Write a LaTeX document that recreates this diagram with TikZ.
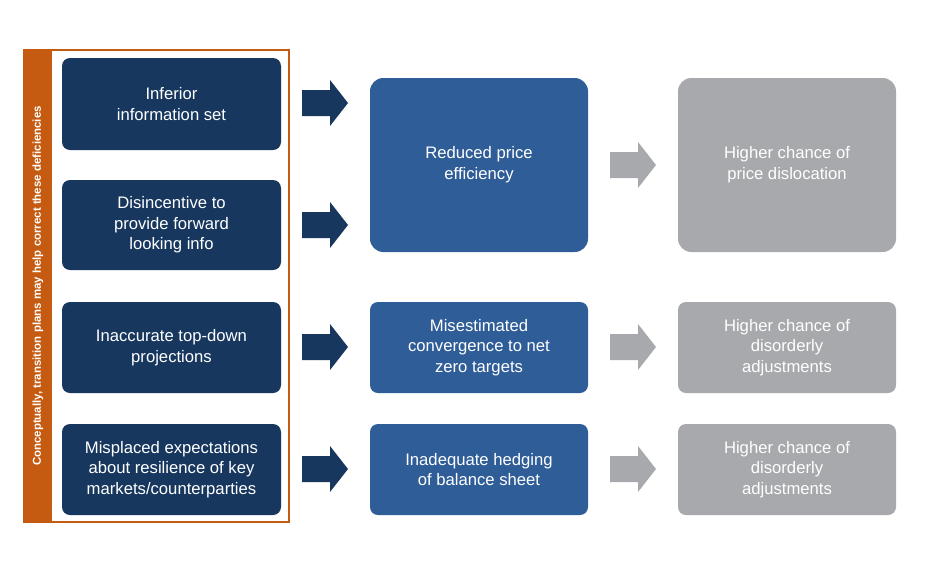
\documentclass[tikz,border=0pt]{standalone}
\usepackage{fontspec}
\setmainfont{Liberation Sans}
\definecolor{navy}{HTML}{17375E}
\definecolor{midblue}{HTML}{2F5D98}
\definecolor{greybox}{HTML}{A7A9AC}
\definecolor{orng}{HTML}{C55A11}
\begin{document}
\begin{tikzpicture}[x=0.75pt,y=-0.75pt,
  box/.style={rounded corners=6pt,text=white,align=center,font=\fontsize{12.5}{15.5}\selectfont},
  darkbox/.style={box,fill=navy},
  bluebox/.style={box,fill=midblue},
  greyb/.style={box,fill=greybox}]
\useasboundingbox (0,0) rectangle (950,586);
\fill[white] (0,0) rectangle (950,586);
% frame
\draw[orng,line width=1.2pt] (24,50) rectangle (289,522);
\fill[orng] (24,50) rectangle (52,522);
\node[rotate=90,text=white,font=\fontsize{8.6}{10}\selectfont\bfseries] (lbl) at (38,286) {Conceptually, transition plans may help correct these deficiencies};
% left boxes
\node[darkbox,minimum width=219\pgflinewidth] (a1) at (171.5,104) {};
\fill[navy,rounded corners=6pt] (62,58) rectangle (281,150);
\node[box] (a1t) at (171.5,104) {Inferior\\information set};
\fill[navy,rounded corners=6pt] (62,180) rectangle (281,270);
\node[box] (a2) at (171.5,225) {Disincentive to\\provide forward\\looking info};
\fill[navy,rounded corners=6pt] (62,302) rectangle (281,393);
\node[box] (a3) at (171.5,347.5) {Inaccurate top-down\\projections};
\fill[navy,rounded corners=6pt] (62,424) rectangle (281,515);
\node[box] (a4) at (171.5,469.5) {Misplaced expectations\\about resilience of key\\markets/counterparties};
% middle
\fill[midblue,rounded corners=10pt] (370,78) rectangle (588,252);
\node[box] (b1) at (479,165) {Reduced price\\efficiency};
\fill[midblue,rounded corners=6pt] (370,302) rectangle (588,393);
\node[box] (b2) at (479,347.5) {Misestimated\\convergence to net\\zero targets};
\fill[midblue,rounded corners=6pt] (370,424) rectangle (588,515);
\node[box] (b3) at (479,469.5) {Inadequate hedging\\of balance sheet};
% right
\fill[greybox,rounded corners=10pt] (678,78) rectangle (896,252);
\node[box] (c1) at (787,165) {Higher chance of\\price dislocation};
\fill[greybox,rounded corners=6pt] (678,302) rectangle (896,393);
\node[box] (c2) at (787,347.5) {Higher chance of\\disorderly\\adjustments};
\fill[greybox,rounded corners=6pt] (678,424) rectangle (896,515);
\node[box] (c3) at (787,469.5) {Higher chance of\\disorderly\\adjustments};
% arrows
\foreach \yy/\cc/\xx in {103/navy/302,225/navy/302,347/navy/302,469/navy/302,165/greybox/610,347/greybox/610,469/greybox/610}{
  \fill[\cc] (\xx,\yy-13) -- (\xx+28,\yy-13) -- (\xx+28,\yy-23) -- (\xx+46,\yy) -- (\xx+28,\yy+23) -- (\xx+28,\yy+13) -- (\xx,\yy+13) -- cycle;
}
\end{tikzpicture}
\end{document}
